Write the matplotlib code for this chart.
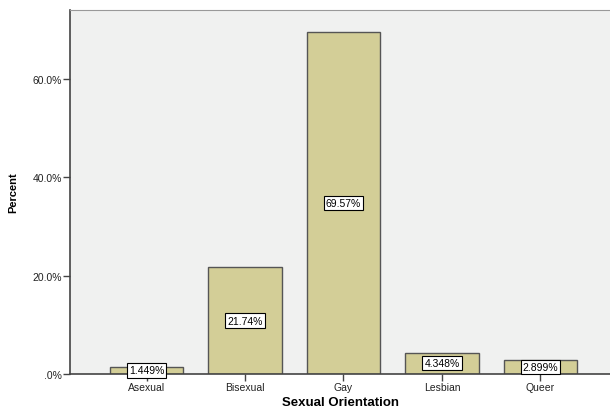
import matplotlib
matplotlib.use("Agg")
from matplotlib import pyplot as plt
from matplotlib.ticker import FuncFormatter

# data
categories = ['Asexual', 'Bisexual', 'Gay', 'Lesbian', 'Queer']
percents = [1.449, 21.74, 69.57, 4.348, 2.899]
labels = ['1.449%', '21.74%', '69.57%', '4.348%', '2.899%']
yticks = [0, 20, 40, 60]

plt.rcParams['font.family'] = ['Liberation Sans', 'DejaVu Sans']

fig = plt.figure(figsize=(6.1, 4.1), dpi=100)
ax = fig.add_axes([70 / 610, 35 / 410, 1 - 70 / 610, 364 / 410])
ax.set_facecolor('#f0f1f0')

x = list(range(len(categories)))
ax.bar(x, percents, width=0.75, color='#d3ce97', edgecolor='#555555', linewidth=1.0)

# labels in the middle of each bar
for xi, p, lab in zip(x, percents, labels):
    ax.text(xi, p / 2, lab, ha='center', va='center', fontsize=7.5, color='black',
            bbox=dict(boxstyle='square,pad=0.2', facecolor='white', edgecolor='black', linewidth=0.8))

ax.set_xlim(-0.777, 4.706)
ax.set_ylim(0, 74)
ax.set_xticks(x)
ax.set_xticklabels(categories, fontsize=7.5, color='#222222')
ax.set_yticks(yticks)
ax.yaxis.set_major_formatter(FuncFormatter(lambda v, pos: '.0%' if v == 0 else '%.1f%%' % v))
ax.tick_params(axis='y', labelsize=7.5, labelcolor='#222222', length=5, width=1, color='#444444', pad=1)
ax.tick_params(axis='x', length=5, width=1, color='#444444', pad=1)

ax.set_ylabel('Percent', fontsize=8, fontweight='bold', labelpad=10)
ax.set_xlabel('Sexual Orientation', fontsize=9.5, fontweight='bold', labelpad=3)

ax.spines['left'].set_color('#444444')
ax.spines['bottom'].set_color('#444444')
ax.spines['top'].set_color('#999999')
ax.spines['right'].set_visible(False)
ax.spines['left'].set_linewidth(1.2)
ax.spines['bottom'].set_linewidth(1.2)

fig.savefig('out.png', dpi=100, facecolor='white')
